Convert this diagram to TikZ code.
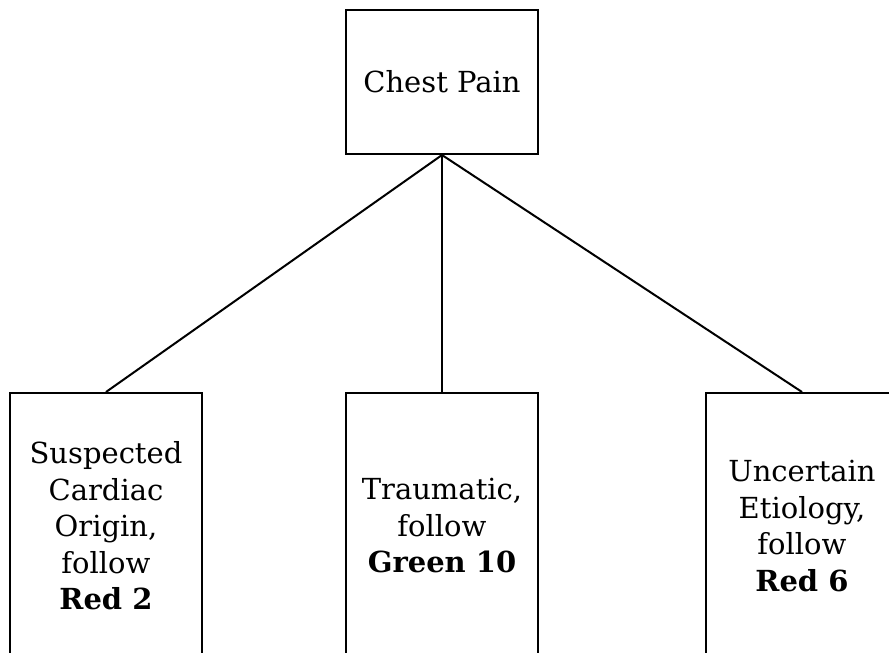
\documentclass[tikz,border=0pt]{standalone}
\usepackage{fontspec}
\setmainfont{DejaVu Serif}
\begin{document}
\begin{tikzpicture}[x=1pt,y=-1pt,
  box/.style={draw, line width=2pt, rectangle, minimum width=192pt, align=center, inner sep=0pt,
    font=\fontsize{29}{36.5}\selectfont},
  link/.style={line width=2pt}]
\useasboundingbox (0,0) rectangle (889,653);
\clip (0,0) rectangle (889,653);
\node[box, minimum height=144pt] (top) at (442,82) {Chest Pain};
\node[box, minimum height=266pt] (left) at (106,526) {Suspected\\Cardiac\\Origin,\\follow\\\textbf{Red 2}};
\node[box, minimum height=266pt] (mid) at (442,526) {Traumatic,\\follow\\\textbf{Green 10}};
\node[box, minimum height=266pt] (right) at (802,526) {Uncertain\\Etiology,\\follow\\\textbf{Red 6}};
\draw[link] (top.south) -- (left.north);
\draw[link] (top.south) -- (mid.north);
\draw[link] (top.south) -- (right.north);
\end{tikzpicture}
\end{document}
